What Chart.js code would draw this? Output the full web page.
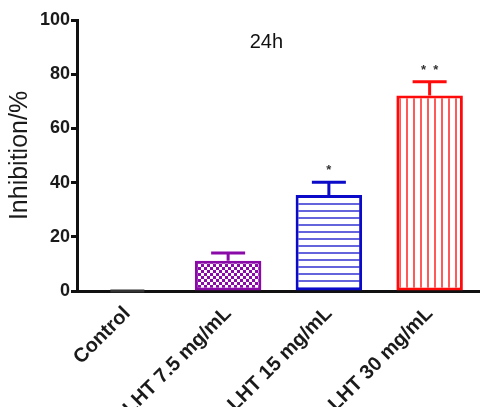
<!DOCTYPE html>
<html>
<head>
<meta charset="utf-8">
<script src="https://cdn.jsdelivr.net/npm/chart.js@4/dist/chart.umd.min.js"></script>
<style>
  html, body { margin: 0; padding: 0; background: #fff; }
  #wrap { width: 480px; height: 407px; position: relative; }
</style>
</head>
<body>
<div id="wrap"><canvas id="inhibitionChart"></canvas></div>
<script>
// 24h inhibition data
const groups = ['Control', 'LHT 7.5 mg/mL', 'LHT 15 mg/mL', 'LHT 30 mg/mL'];
const inhibition = [0, 11.2, 35.4, 72.1];
const errors = [0, 2.8, 4.7, 5.1];
const marks = ['', '', '*', '*  *'];
const yTicks = [0, 20, 40, 60, 80, 100];

const lineColors = ['#333333', '#8a0aa8', '#0a0ac8', '#ff0a0a'];
const fontFamily = '"Liberation Sans", Arial, sans-serif';

function makePattern(w, h, draw) {
    const c = document.createElement('canvas');
    c.width = w; c.height = h;
    const g = c.getContext('2d');
    g.fillStyle = '#ffffff';
    g.fillRect(0, 0, w, h);
    draw(g);
    return g.createPattern(c, 'repeat');
}

// fills: checker (purple), horizontal lines (blue), vertical lines (red)
const fills = [
    '#333333',
    makePattern(6, 6, g => {
        g.fillStyle = '#8a0aa8';
        g.fillRect(3, 0, 3, 3);
        g.fillRect(0, 3, 3, 3);
    }),
    makePattern(1, 7, g => {
        g.fillStyle = '#6464dc';
        g.fillRect(0, 0, 1, 2);
    }),
    makePattern(7, 1, g => {
        g.fillStyle = '#ff5a5a';
        g.fillRect(0, 0, 2, 1);
    })
];

// SEM caps + significance stars (control gets a bare cap at 0)
const errorBars = {
    id: 'errorBars',
    afterDatasetsDraw(chart) {
        const { ctx, scales: { y } } = chart;
        const meta = chart.getDatasetMeta(0);
        ctx.save();
        meta.data.forEach((bar, i) => {
            const top = y.getPixelForValue(inhibition[i] + errors[i]);
            ctx.strokeStyle = lineColors[i];
            ctx.lineWidth = 3;
            ctx.beginPath();
            if (errors[i]) {
                ctx.moveTo(bar.x, bar.y);
                ctx.lineTo(bar.x, top);
            }
            ctx.moveTo(bar.x - 17, top);
            ctx.lineTo(bar.x + 17, top);
            ctx.stroke();
            if (marks[i]) {
                ctx.fillStyle = '#333333';
                ctx.font = 'bold 13px ' + fontFamily;
                ctx.textAlign = 'center';
                ctx.textBaseline = 'alphabetic';
                ctx.fillText(marks[i], bar.x, top - 8);
            }
        });
        ctx.restore();
    }
};

const panelTitle = {
    id: 'panelTitle',
    afterDraw(chart) {
        const { ctx, chartArea } = chart;
        ctx.save();
        ctx.fillStyle = '#111111';
        ctx.font = '20px ' + fontFamily;
        ctx.textAlign = 'center';
        ctx.textBaseline = 'middle';
        ctx.fillText('24h', chartArea.left + chartArea.width * 0.47, 42);
        ctx.restore();
    }
};

new Chart(document.getElementById('inhibitionChart'), {
    type: 'bar',
    data: {
        labels: groups,
        datasets: [{
            data: inhibition,
            backgroundColor: fills,
            borderColor: lineColors,
            borderWidth: 3,
            borderSkipped: false,
            barPercentage: 0.66,
            categoryPercentage: 1
        }]
    },
    options: {
        responsive: true,
        maintainAspectRatio: false,
        animation: false,
        layout: { padding: { top: 20, right: 0, left: 0, bottom: 0 } },
        plugins: {
            legend: { display: false },
            tooltip: { enabled: false }
        },
        scales: {
            x: {
                grid: { display: false, drawTicks: false },
                border: { display: true, color: '#111111', width: 3 },
                ticks: {
                    color: '#1a1a1a',
                    font: { family: fontFamily, size: 20, weight: 'bold' },
                    minRotation: 45,
                    maxRotation: 45,
                    padding: 11
                },
                afterFit(scale) { scale.height = 116; }
            },
            y: {
                min: 0,
                max: 100,
                afterBuildTicks(scale) { scale.ticks = yTicks.map(v => ({ value: v })); },
                grid: { display: true, drawOnChartArea: false, drawTicks: true, tickLength: 6, tickColor: '#111111', tickWidth: 3 },
                border: { display: true, color: '#111111', width: 3 },
                ticks: {
                    color: '#1a1a1a',
                    font: { family: fontFamily, size: 18, weight: 'bold' },
                    padding: 1
                },
                title: {
                    display: true,
                    text: 'Inhibition/%',
                    color: '#1a1a1a',
                    font: { family: fontFamily, size: 25 },
                    padding: { top: 5, bottom: 0 }
                },
                afterFit(scale) { scale.width = 77; }
            }
        }
    },
    plugins: [errorBars, panelTitle]
});
</script>
</body>
</html>
